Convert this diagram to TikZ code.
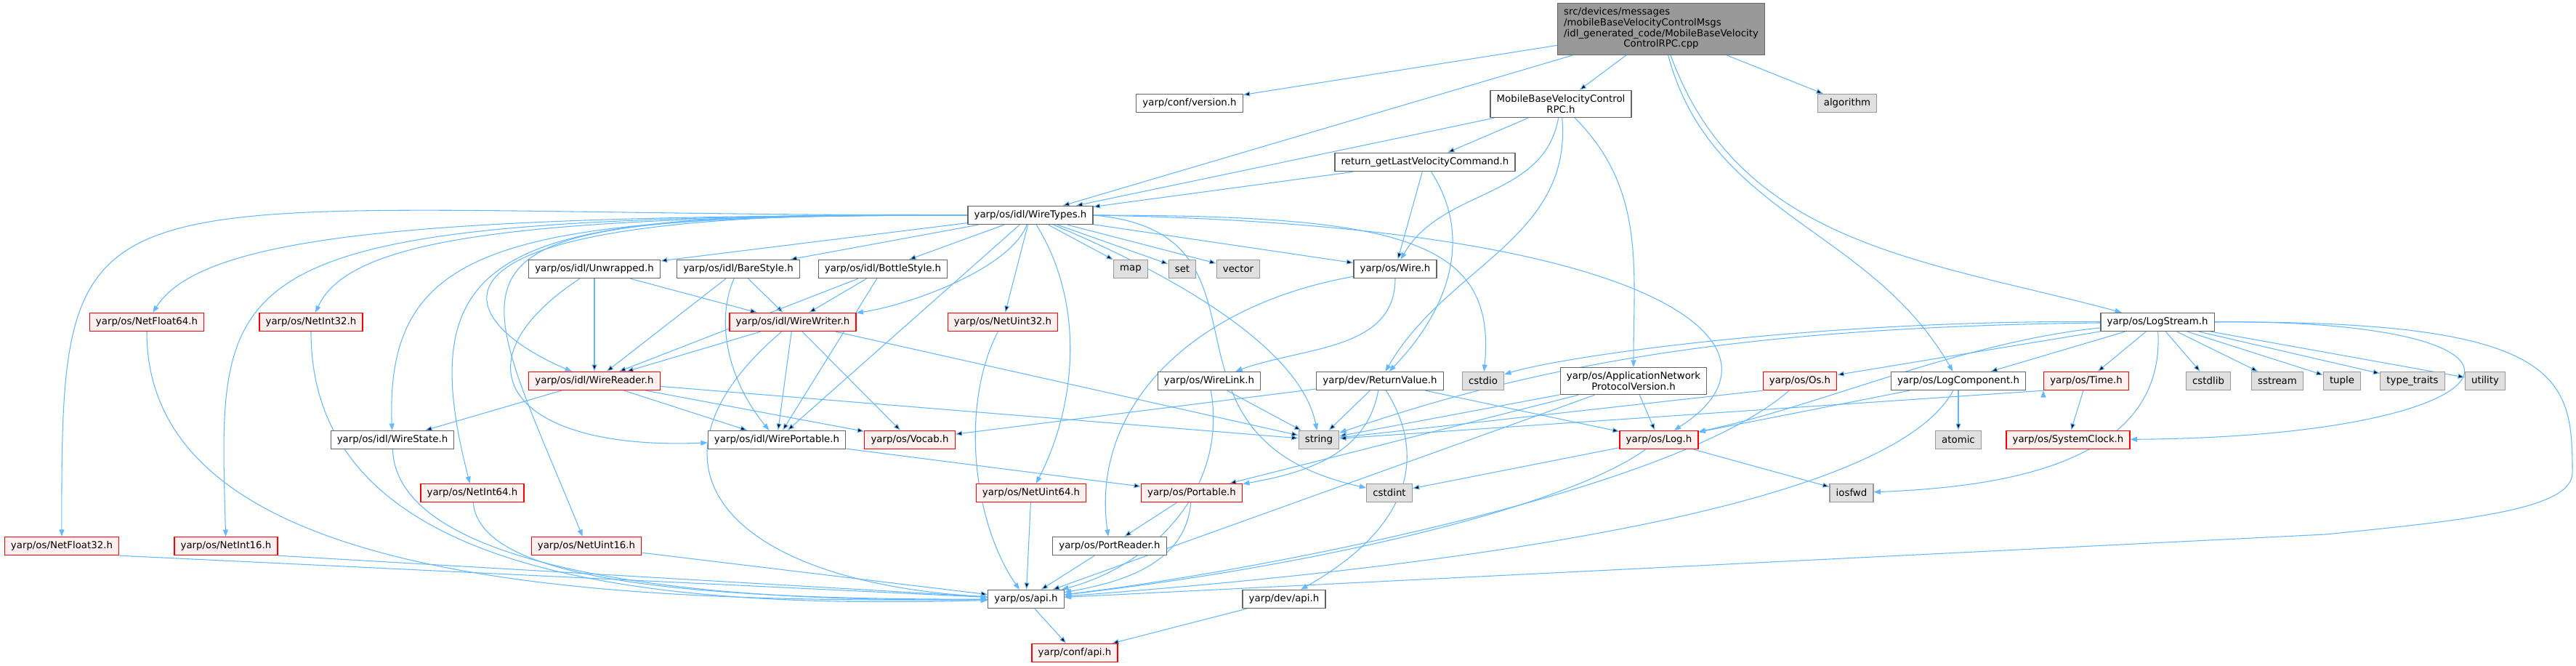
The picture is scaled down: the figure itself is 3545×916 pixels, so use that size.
\documentclass[tikz,border=0pt]{standalone}
\usepackage{fontspec}
\setmainfont{DejaVu Sans}
\usetikzlibrary{arrows.meta}
\pgfdeclarelayer{background}
\pgfsetlayers{background,main}
\definecolor{edgeblue}{HTML}{63B8FF}
\definecolor{cutfill}{HTML}{FFF0F0}
\tikzset{
  ->,
  >={Triangle[length=7pt,width=5.2pt]},
  every node/.style={font=\fontsize{10}{11}\selectfont, inner xsep=6.5pt, inner ysep=4.6pt, minimum height=18.75pt},
  hdr/.style={draw=black!60, line width=0.9pt, fill=white},
  hdrcut/.style={draw=red, line width=0.9pt, fill=cutfill},
  hdrsys/.style={draw=black!40, line width=0.9pt, fill=black!12},
  hdrmain/.style={draw=black!60, line width=0.9pt, fill=black!40},
  dep/.style={draw=edgeblue, line width=0.8pt},
}

\begin{document}
\begin{tikzpicture}[x=0.75pt,y=-0.75pt]
		\useasboundingbox (0,0) rectangle (3545,916);

		% files
		\node[hdrmain] (cpp) at (2286,40) {\begin{tabular}{@{}l@{}}src/devices/messages\\/mobileBaseVelocityControlMsgs\\/idl\_generated\_code/MobileBaseVelocity\\\multicolumn{1}{@{}c@{}}{ControlRPC.cpp}\end{tabular}};
		\node[hdr] (version) at (1637,142) {yarp/conf/version.h};
		\node[hdr, align=center] (rpc) at (2148,143) {MobileBaseVelocityControl\\RPC.h};
		\node[hdrsys] (algorithm) at (2542,142) {algorithm};
		\node[hdr] (retget) at (1961,223) {return\_getLastVelocityCommand.h};
		\node[hdr] (wiretypes) at (1418,296) {yarp/os/idl/WireTypes.h};
		\node[hdr] (unwrapped) at (818,370) {yarp/os/idl/Unwrapped.h};
		\node[hdr] (barestyle) at (1016,370) {yarp/os/idl/BareStyle.h};
		\node[hdr] (bottlestyle) at (1215,370) {yarp/os/idl/BottleStyle.h};
		\node[hdrsys] (map) at (1556,370) {map};
		\node[hdrsys] (set) at (1627,370) {set};
		\node[hdrsys] (vector) at (1704,370) {vector};
		\node[hdr] (wire) at (1920,370) {yarp/os/Wire.h};
		\node[hdr] (logstream) at (2969,443) {yarp/os/LogStream.h};
		\node[hdrcut] (netfloat64) at (202,443) {yarp/os/NetFloat64.h};
		\node[hdrcut] (netint32) at (428,443) {yarp/os/NetInt32.h};
		\node[hdrcut] (wirewriter) at (1091,443) {yarp/os/idl/WireWriter.h};
		\node[hdrcut] (netuint32) at (1380,443) {yarp/os/NetUint32.h};
		\node[hdrcut] (wirereader) at (818,524) {yarp/os/idl/WireReader.h};
		\node[hdr] (wirelink) at (1664,524) {yarp/os/WireLink.h};
		\node[hdr] (retval) at (1899,524) {yarp/dev/ReturnValue.h};
		\node[hdrsys] (cstdio) at (2041,524) {cstdio};
		\node[hdr, align=center] (appnet) at (2248,524) {yarp/os/ApplicationNetwork\\ProtocolVersion.h};
		\node[hdrcut] (os) at (2477,524) {yarp/os/Os.h};
		\node[hdr] (logcomp) at (2695,524) {yarp/os/LogComponent.h};
		\node[hdrcut] (time) at (2871,524) {yarp/os/Time.h};
		\node[hdrsys] (cstdlib) at (3039,524) {cstdlib};
		\node[hdrsys] (sstream) at (3134,524) {sstream};
		\node[hdrsys] (tuple) at (3223,524) {tuple};
		\node[hdrsys] (typetraits) at (3320,524) {type\_traits};
		\node[hdrsys] (utility) at (3420,524) {utility};
		\node[hdr] (wirestate) at (540,605) {yarp/os/idl/WireState.h};
		\node[hdr] (wireportable) at (1069,605) {yarp/os/idl/WirePortable.h};
		\node[hdrcut] (vocab) at (1252,605) {yarp/os/Vocab.h};
		\node[hdrsys] (string) at (1815,605) {string};
		\node[hdrcut] (log) at (2283,605) {yarp/os/Log.h};
		\node[hdrsys] (atomic) at (2695,605) {atomic};
		\node[hdrcut] (systemclock) at (2846,605) {yarp/os/SystemClock.h};
		\node[hdrcut] (netint64) at (650,678) {yarp/os/NetInt64.h};
		\node[hdrcut] (netuint64) at (1419,678) {yarp/os/NetUint64.h};
		\node[hdrcut] (portable) at (1640,678) {yarp/os/Portable.h};
		\node[hdrsys] (cstdint) at (1912,678) {cstdint};
		\node[hdrsys] (iosfwd) at (2548,678) {iosfwd};
		\node[hdrcut] (netfloat32) at (85,751) {yarp/os/NetFloat32.h};
		\node[hdrcut] (netint16) at (311,751) {yarp/os/NetInt16.h};
		\node[hdrcut] (netuint16) at (807,751) {yarp/os/NetUint16.h};
		\node[hdr] (portreader) at (1527,751) {yarp/os/PortReader.h};
		\node[hdr] (osapi) at (1412,824) {yarp/os/api.h};
		\node[hdr] (devapi) at (1767,824) {yarp/dev/api.h};
		\node[hdrcut] (confapi) at (1479,898) {yarp/conf/api.h};

		% includes
		\begin{pgfonlayer}{background}
		\draw[dep] (cpp) edge (version) (cpp) edge (wiretypes) (cpp) edge (rpc) (cpp) edge (algorithm)
		(rpc) edge (wiretypes) (rpc) edge (retget)
		(retget) edge (wiretypes) (retget) edge (wire)
		(wiretypes) edge (unwrapped) (wiretypes) edge (barestyle) (wiretypes) edge (bottlestyle)
		(wiretypes) edge (wireportable) (wiretypes) edge (netuint32)
		(wiretypes) edge (map) (wiretypes) edge (set) (wiretypes) edge (vector) (wiretypes) edge (wire)
		(unwrapped) edge (wirewriter) (unwrapped) edge (wirereader)
		(barestyle) edge (wirewriter) (barestyle) edge (wirereader)
		(bottlestyle) edge (wirewriter) (bottlestyle) edge (wirereader) (bottlestyle) edge (wireportable)
		(wirewriter) edge (wirereader) (wirewriter) edge (wireportable) (wirewriter) edge (vocab) (wirewriter) edge (string)
		(wirereader) edge (wirestate) (wirereader) edge (wireportable) (wirereader) edge (vocab) (wirereader) edge (string)
		(wireportable) edge (portable)
		(netuint64) edge (osapi) (portable) edge (portreader) (portreader) edge (osapi)
		(netfloat32.south east) edge (osapi) (netint16.south east) edge (osapi) (netuint16) edge (osapi)
		(wirelink) edge (string)
		(retval) edge (vocab) (retval) edge (string) (retval) edge (log)
		(appnet) edge (string) (appnet) edge (portable) (appnet) edge (log) (appnet) edge (osapi)
		(os.south west) edge (string)
		(logcomp) edge (log) (logcomp) edge (atomic)
		(time) edge (systemclock) (time.south west) edge (string)
		(log) edge (cstdint) (log) edge (iosfwd)
		(logstream) edge (os) (logstream) edge (logcomp) (logstream) edge (time)
		(logstream) edge (cstdlib) (logstream) edge (sstream) (logstream) edge (tuple)
		(logstream) edge (typetraits) (logstream) edge (utility)
		(osapi) edge (confapi) (devapi) edge (confapi);

		\draw[dep] (cpp) to[out=-75,in=120] (logcomp);
		\draw[dep] (cpp) to[out=-70,in=165] (logstream);
		\draw[dep] (rpc) to[out=-100,in=60] (wire);
		\draw[dep] (rpc) to[out=-85,in=60] (retval);
		\draw[dep] (rpc) to[out=-45,in=90] (appnet);
		\draw[dep] (retget) .. controls (2030,330) and (1990,430) .. (retval);
		\draw[dep] (wiretypes) .. controls (1390,370) and (1250,420) .. (wirewriter);
		\draw[dep] (wiretypes.west) .. controls (520,285) and (620,440) .. (wirereader);
		\draw[dep] (wiretypes.west) .. controls (700,296) and (530,330) .. (wirestate);
		\draw[dep] (wiretypes.west) .. controls (600,296) and (280,320) .. (netfloat64);
		\draw[dep] (wiretypes.west) .. controls (100,296) and (84,200) .. (netfloat32);
		\draw[dep] (wiretypes.west) .. controls (700,296) and (480,330) .. (netint32);
		\draw[dep] (wiretypes.west) .. controls (280,296) and (300,360) .. (netint16);
		\draw[dep] (wiretypes.west) .. controls (700,290) and (560,330) .. (netint64);
		\draw[dep] (wiretypes.west) .. controls (560,296) and (640,340) .. (netuint16);
		\draw[dep] (wiretypes) .. controls (1495,420) and (1480,560) .. (netuint64);
		\draw[dep] (wiretypes) .. controls (1620,380) and (1790,480) .. (string);
		\draw[dep] (wiretypes.east) .. controls (1930,296) and (2060,330) .. (cstdio);
		\draw[dep] (wiretypes.east) .. controls (1780,320) and (1560,600) .. (cstdint);
		\draw[dep] (wiretypes.east) .. controls (2300,310) and (2480,480) .. (log);
		\draw[dep] (unwrapped) .. controls (620,500) and (700,620) .. (wireportable);
		\draw[dep] (barestyle) .. controls (985,440) and (1000,520) .. (wireportable);
		\draw[dep] (wirewriter) .. controls (860,640) and (1000,800) .. (osapi);
		\draw[dep] (wirestate) .. controls (545,760) and (850,830) .. (osapi);
		\draw[dep] (netfloat64) .. controls (202,800) and (800,830) .. (osapi);
		\draw[dep] (netint32) .. controls (428,780) and (850,840) .. (osapi);
		\draw[dep] (netint64) .. controls (660,790) and (900,825) .. (osapi);
		\draw[dep] (netuint32) .. controls (1320,560) and (1340,720) .. (osapi);
		\draw[dep] (portable) to[out=-95,in=10] (osapi);
		\draw[dep] (wire) to[out=-90,in=20] (wirelink);
		\draw[dep] (wire) .. controls (1640,420) and (1500,560) .. (portreader);
		\draw[dep] (wirelink) to[out=-80,in=15] (osapi);
		\draw[dep] (retval) to[out=-100,in=10] (portable);
		\draw[dep] (retval) .. controls (1960,620) and (1950,720) .. (devapi);
		\draw[dep] (os) .. controls (2300,680) and (1700,790) .. (osapi);
		\draw[dep] (logcomp) .. controls (2600,700) and (2000,780) .. (osapi);
		\draw[dep] (log) .. controls (2150,700) and (1800,780) .. (osapi);
		\draw[dep] (logstream) .. controls (2700,470) and (2500,560) .. (log);
		\draw[dep] (logstream) .. controls (2500,440) and (2150,490) .. (cstdio);
		\draw[dep] (logstream) .. controls (2400,450) and (2120,500) .. (string);
		\draw[dep] (logstream) .. controls (2980,640) and (2750,670) .. (iosfwd);
		\draw[dep] (logstream) .. controls (3560,440) and (3480,600) .. (systemclock);
		\draw[dep] (logstream.east) .. controls (3530,440) and (3540,520) .. (3540,650)
		.. controls (3540,700) and (3400,715) .. (3200,735) -- (osapi);
		\end{pgfonlayer}

	\end{tikzpicture}
\end{document}
